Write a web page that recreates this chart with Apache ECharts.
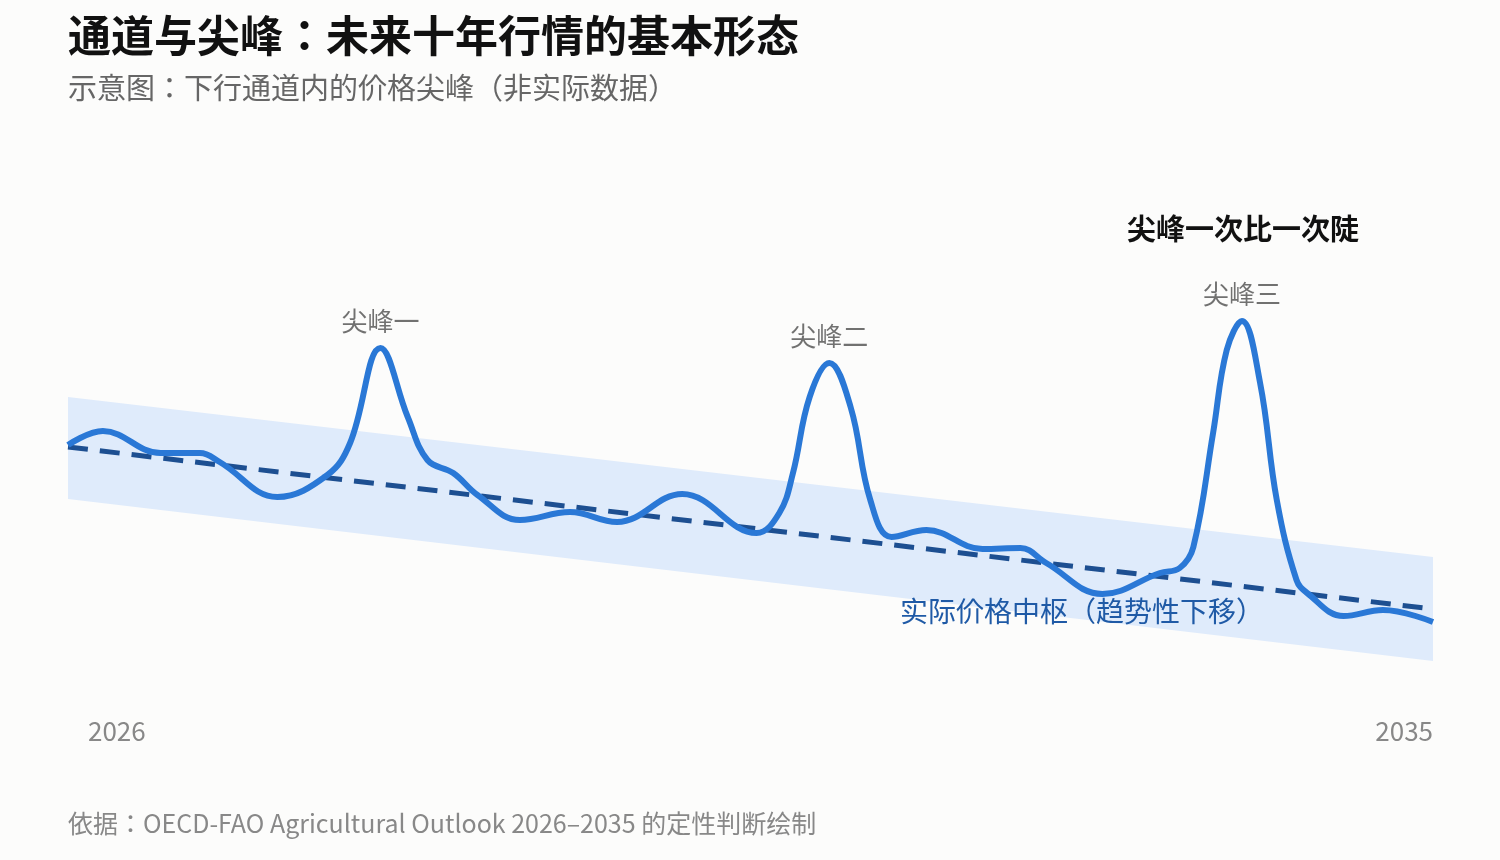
<!DOCTYPE html>
<html>
<head>
<meta charset="utf-8">
<script src="https://cdn.jsdelivr.net/npm/echarts@6/dist/echarts.min.js"></script>
<style>
  html, body { margin: 0; padding: 0; background: #fcfcfb; }
  #main { width: 1500px; height: 860px; }
</style>
</head>
<body>
<div id="main"></div>
<script>
// 价格路径（示意，年份为小数）
var years = [2026.00, 2026.23, 2026.61, 2026.87, 2027.00, 2027.38, 2027.71, 2027.86, 2028.06, 2028.24,
  2028.37, 2028.54, 2028.70, 2028.98, 2029.31, 2029.62, 2030.05, 2030.54, 2030.69, 2030.78,
  2030.89, 2031.02, 2031.16, 2031.29, 2031.43, 2031.66, 2032.03, 2032.28, 2032.45, 2032.82,
  2033.20, 2033.33, 2033.42, 2033.55, 2033.64, 2033.74, 2033.86, 2033.97, 2034.10, 2034.17,
  2034.41, 2034.67, 2035.00];
var price = [51.0, 53.8, 49.4, 49.4, 47.6, 40.6, 45.0, 51.4, 70.4, 56.6,
  48.0, 45.4, 41.0, 36.0, 37.6, 35.6, 41.2, 33.4, 37.4, 45.4,
  60.6, 67.4, 58.6, 40.0, 32.6, 34.0, 30.2, 30.4, 27.4, 21.2,
  25.4, 26.4, 30.6, 53.4, 70.0, 75.8, 63.4, 40.0, 24.0, 21.4,
  16.8, 18.0, 15.6];

// 尖峰位置与名称
var peakIdx = [8, 21, 35];
var peakNames = ['尖峰一', '尖峰二', '尖峰三'];

// 趋势中枢与通道
var trendYears = [2026, 2035];
var trendVals = [50.6, 18.2];
var bandTop = [60.6, 28.6];
var bandBottom = [40.2, 7.8];

var chart = echarts.init(document.getElementById('main'));
var font = '"Noto Sans CJK JP", "Noto Sans CJK SC", sans-serif';

var lineData = years.map(function (y, i) { return [y, price[i]]; });
var peakData = peakIdx.map(function (idx, k) {
  return { value: [years[idx], price[idx]], name: peakNames[k] };
});
var trendData = trendYears.map(function (y, i) { return [y, trendVals[i]]; });
var bandData = trendYears.map(function (y, i) { return [y, bandBottom[i], bandTop[i]]; });

var option = {
  backgroundColor: '#fcfcfb',
  animation: false,
  textStyle: { fontFamily: font },
  title: {
    left: 68,
    top: 11,
    padding: 0,
    itemGap: 9,
    text: '通道与尖峰：未来十年行情的基本形态',
    textStyle: { fontSize: 43, fontWeight: 'bold', color: '#111', lineHeight: 50, fontFamily: font },
    subtext: '示意图：下行通道内的价格尖峰（非实际数据）',
    subtextStyle: { fontSize: 29, color: '#666', lineHeight: 36, fontFamily: font }
  },
  grid: { left: 68, right: 67, top: 200, height: 500 },
  xAxis: {
    type: 'value',
    min: 2026,
    max: 2035,
    interval: 9,
    axisLine: { show: false },
    axisTick: { show: false },
    splitLine: { show: false },
    axisLabel: {
      margin: 18,
      fontSize: 26,
      color: '#888',
      fontFamily: font,
      alignMinLabel: 'left',
      alignMaxLabel: 'right',
      formatter: function (v) {
        return v === 2026 ? '{l|' + v + '}' : '' + v;
      },
      rich: {
        l: { padding: [0, 0, 0, 20], fontSize: 26, color: '#888', fontFamily: font }
      }
    }
  },
  yAxis: {
    type: 'value',
    min: 0,
    max: 100,
    show: false
  },
  series: [
    {
      // 通道
      type: 'custom',
      silent: true,
      z: 1,
      data: bandData,
      renderItem: function (params, api) {
        if (params.dataIndex !== 0) return;
        var pts = [];
        var n = bandData.length;
        for (var i = 0; i < n; i++) pts.push(api.coord([bandData[i][0], bandData[i][2]]));
        for (var j = n - 1; j >= 0; j--) pts.push(api.coord([bandData[j][0], bandData[j][1]]));
        return { type: 'polygon', shape: { points: pts }, style: { fill: '#dfebfb' } };
      }
    },
    {
      // 趋势中枢
      type: 'line',
      data: trendData,
      symbol: 'none',
      z: 2,
      lineStyle: { color: '#1d4f91', width: 5, type: [20, 12] }
    },
    {
      type: 'line',
      data: lineData,
      smooth: 0.4,
      symbol: 'none',
      z: 3,
      lineStyle: { color: '#2a78d6', width: 6 }
    },
    {
      type: 'scatter',
      data: peakData,
      symbolSize: 0,
      z: 4,
      label: {
        show: true,
        position: 'top',
        distance: 14,
        formatter: '{b}',
        fontSize: 26,
        color: '#4d4d4d',
        fontFamily: font
      }
    }
  ],
  graphic: [
    {
      type: 'text',
      left: 1127,
      top: 214,
      z: 100,
      style: { text: '尖峰一次比一次陡', fill: '#111', font: 'bold 29px ' + font }
    },
    {
      type: 'text',
      left: 900,
      top: 597,
      z: 100,
      style: { text: '实际价格中枢（趋势性下移）', fill: '#1f5aa6', font: '28px ' + font }
    },
    {
      type: 'text',
      left: 68,
      top: 811,
      z: 100,
      style: { text: '依据：OECD-FAO Agricultural Outlook 2026–2035 的定性判断绘制', fill: '#888', font: '25px ' + font }
    }
  ]
};

chart.setOption(option);
</script>
</body>
</html>
